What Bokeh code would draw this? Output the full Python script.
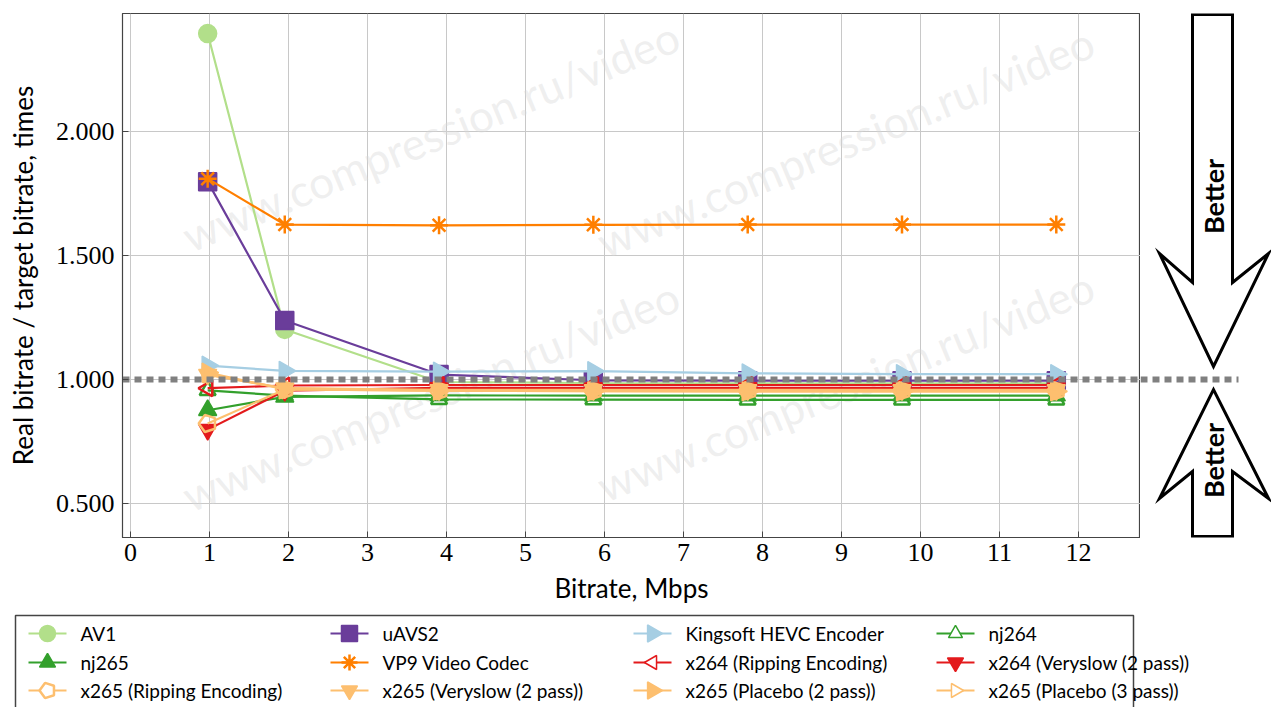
import math
from bokeh.plotting import figure
from bokeh.layouts import column, row
from bokeh.models import (ColumnDataSource, Range1d, FixedTicker, NumeralTickFormatter, Span)
from bokeh.core.properties import value
from bokeh.embed import file_html
from bokeh.resources import INLINE

# ---------------- data ----------------
bitrate = [0.977, 1.953, 3.906, 5.859, 7.813, 9.766, 11.719]

names = ["AV1", "uAVS2", "Kingsoft HEVC Encoder", "nj264",
         "nj265", "VP9 Video Codec", "x264 (Ripping Encoding)", "x264 (Veryslow (2 pass))",
         "x265 (Ripping Encoding)", "x265 (Veryslow (2 pass))", "x265 (Placebo (2 pass))", "x265 (Placebo (3 pass))"]

av1 = [2.395, 1.202, 0.990, 0.986, 0.985, 0.985, 0.985]
uavs2 = [1.798, 1.238, 1.020, 0.997, 0.995, 0.995, 0.995]
kingsoft = [1.056, 1.035, 1.032, 1.034, 1.025, 1.022, 1.022]
nj264 = [0.956, 0.935, 0.920, 0.919, 0.918, 0.918, 0.918]
nj265 = [0.876, 0.930, 0.936, 0.935, 0.935, 0.935, 0.935]
vp9 = [1.810, 1.625, 1.622, 1.624, 1.625, 1.625, 1.625]
x264_rip = [0.965, 0.976, 0.978, 0.978, 0.978, 0.978, 0.978]
x264_vs = [0.798, 0.955, 0.966, 0.966, 0.966, 0.966, 0.966]
x265_rip = [0.823, 0.960, 0.955, 0.955, 0.955, 0.955, 0.955]
x265_vs = [1.020, 0.965, 0.958, 0.958, 0.958, 0.958, 0.958]
x265_p2 = [1.028, 0.960, 0.955, 0.953, 0.952, 0.952, 0.952]
x265_p3 = [1.020, 0.964, 0.955, 0.953, 0.952, 0.952, 0.952]
series_values = [av1, uavs2, kingsoft, nj264, nj265, vp9, x264_rip, x264_vs,
                 x265_rip, x265_vs, x265_p2, x265_p3]

reference_ratio = 1.0
x_ticks = list(range(0, 13))
y_ticks = [0.5, 1.0, 1.5, 2.0]

# ---------------- styles ----------------
C_AV1, C_UAVS, C_KS, C_NJ, C_VP9, C_X264, C_X265 = ("#b2df8a", "#6a3d9a", "#a6cee3", "#33a02c",
                                                    "#ff7f00", "#e31a1c", "#fdbf6f")
styles = [
    dict(color=C_AV1, marker="circle", fill=C_AV1, size=18, angle=0),
    dict(color=C_UAVS, marker="square", fill=C_UAVS, size=18, angle=0),
    dict(color=C_KS, marker="triangle", fill=C_KS, size=19, angle=-math.pi / 2),
    dict(color=C_NJ, marker="triangle", fill=None, size=16, angle=0),
    dict(color=C_NJ, marker="triangle", fill=C_NJ, size=18, angle=0),
    dict(color=C_VP9, marker="asterisk", fill=C_VP9, size=18, angle=0),
    dict(color=C_X264, marker="triangle", fill=None, size=16, angle=math.pi / 2),
    dict(color=C_X264, marker="inverted_triangle", fill=C_X264, size=18, angle=0),
    dict(color=C_X265, marker="pentagon", fill=None, size=16, angle=0),
    dict(color=C_X265, marker="inverted_triangle", fill=C_X265, size=18, angle=0),
    dict(color=C_X265, marker="triangle", fill=C_X265, size=19, angle=-math.pi / 2),
    dict(color=C_X265, marker="triangle", fill=None, size=16, angle=-math.pi / 2),
]

SERIF = "Liberation Serif"
SANS = "Lato"

X0, X1 = -0.101, 12.785
Y0, Y1 = 0.363, 2.476
TOP_PX, FRAME_H = 13, 524


def draw_marker(fig, src, st, xcol="x", ycol="y"):
    is_open = st["fill"] is None
    if st["marker"] == "pentagon":
        try:
            fig.ngon(x=xcol, y=ycol, source=src, radius=st["size"] / 2 + 1, radius_units="screen",
                     n=5, angle=math.pi / 2, fill_color=st["fill"], line_color=st["color"], line_width=2.5)
            return
        except Exception:
            mk = "hex"
    else:
        mk = st["marker"]
    lw = 2.5 if (is_open or mk == "asterisk") else 1.5
    fig.scatter(x=xcol, y=ycol, source=src, marker=mk, size=st["size"], angle=st["angle"],
                fill_color=st["fill"], line_color=st["color"], line_width=lw)


# ---------------- main plot ----------------
p = figure(width=1140, height=610, output_backend="svg", toolbar_location=None,
           x_range=Range1d(X0, X1), y_range=Range1d(Y0, Y1),
           min_border_left=122, min_border_right=0, min_border_top=TOP_PX, min_border_bottom=73)
p.background_fill_color = "white"
p.border_fill_color = "white"
p.outline_line_color = "#444444"
p.outline_line_width = 1.2

for ax in (p.xaxis[0], p.yaxis[0]):
    ax.axis_line_color = "#444444"
    ax.major_tick_line_color = "#444444"
    ax.major_tick_in = 6
    ax.major_tick_out = 0
    ax.minor_tick_line_color = None
    ax.major_label_text_font = SERIF
    ax.major_label_text_font_size = "26px"
    ax.major_label_text_color = "black"
    ax.axis_label_text_font = SANS
    ax.axis_label_text_font_size = "26px"
    ax.axis_label_text_font_style = "normal"
    ax.axis_label_text_color = "black"

p.xaxis.ticker = FixedTicker(ticks=x_ticks)
p.yaxis.ticker = FixedTicker(ticks=y_ticks)
p.yaxis.formatter = NumeralTickFormatter(format="0.000")
p.xaxis.axis_label = "Bitrate, Mbps"
p.yaxis.axis_label = "Real bitrate / target bitrate, times"
p.xaxis.major_label_standoff = 6
p.yaxis.major_label_standoff = 8
p.xaxis.axis_label_standoff = 8
p.yaxis.axis_label_standoff = 14

p.grid.grid_line_color = "#c8c8c8"
p.grid.grid_line_width = 1

# watermark
wm = ColumnDataSource(dict(x=[3.80, 9.05, 3.80, 9.05], y=[1.984, 1.96, 0.936, 0.976],
                           t=["www.compression.ru/video"] * 4))
p.text(x="x", y="y", text="t", source=wm, angle=math.radians(22.5), text_align="center",
       text_baseline="middle", text_font=value(SANS), text_font_size="44px",
       text_color="#d8d8d8", text_alpha=0.42)

# reference line
p.add_layout(Span(location=reference_ratio, dimension="width", line_color="#808080",
                  line_width=6, line_dash="7 5", level="glyph"))

for vals, st in zip(series_values, styles):
    src = ColumnDataSource(dict(x=bitrate, y=vals))
    p.line(x="x", y="y", source=src, line_color=st["color"], line_width=2.2)
    draw_marker(p, src, st)

# ---------------- side panel with arrows ----------------
s = figure(width=131, height=610, output_backend="svg", toolbar_location=None,
           x_range=Range1d(1140, 1271), y_range=p.y_range, x_axis_type=None, y_axis_type=None,
           min_border_left=0, min_border_right=0, min_border_top=TOP_PX, min_border_bottom=73)
s.outline_line_color = None
s.grid.visible = False
s.background_fill_color = "white"
s.border_fill_color = "white"


def py2d(py):
    return Y1 - (py - TOP_PX) * (Y1 - Y0) / FRAME_H


s.segment(x0=[1140], y0=[reference_ratio], x1=[1238], y1=[reference_ratio],
          line_color="#808080", line_width=6, line_dash="7 5")

top_arrow_px = [(1192, 14), (1232, 14), (1232, 282), (1268, 253), (1213, 366), (1159, 253), (1192, 282)]
bot_arrow_px = [(1192, 536), (1232, 536), (1232, 471), (1268, 498), (1213, 389), (1159, 498), (1192, 471)]
s.patches(xs=[[a for a, b in top_arrow_px], [a for a, b in bot_arrow_px]],
          ys=[[py2d(b) for a, b in top_arrow_px], [py2d(b) for a, b in bot_arrow_px]],
          fill_color="white", line_color="black", line_width=3, line_join="miter")
s.text(x=[1213, 1213], y=[py2d(196), py2d(460)], text=["Better", "Better"], angle=math.pi / 2,
       text_align="center", text_baseline="middle", text_font=value(SANS),
       text_font_style="bold", text_font_size="27px", text_color="black")

# ---------------- legend ----------------
lg = figure(width=1271, height=97, output_backend="svg", toolbar_location=None,
            x_range=Range1d(0, 1271), y_range=Range1d(707, 610), x_axis_type=None, y_axis_type=None,
            min_border_left=0, min_border_right=0, min_border_top=0, min_border_bottom=0)
lg.outline_line_color = None
lg.grid.visible = False
lg.background_fill_color = "white"
lg.border_fill_color = "white"
lg.quad(left=[15], right=[1133], top=[615], bottom=[730], fill_color="white",
        line_color="#444444", line_width=1.5)

col_x = [80, 382, 685, 988]
row_y = [633, 662, 690]
for i, (nm, st) in enumerate(zip(names, styles)):
    tx = col_x[i % 4]
    ty = row_y[i // 4]
    lg.segment(x0=[tx - 52], y0=[ty], x1=[tx - 14], y1=[ty], line_color=st["color"], line_width=2.2)
    msrc = ColumnDataSource(dict(x=[tx - 33], y=[ty]))
    st2 = dict(st)
    st2["size"] = st["size"] - 2
    if st2["fill"] is None:
        st2["fill"] = "white"
    draw_marker(lg, msrc, st2)
    lg.text(x=[tx], y=[ty], text=[nm], text_align="left", text_baseline="middle",
            text_font=value(SANS), text_font_size="19px", text_color="black")

layout = column(row(p, s, spacing=0), lg, spacing=0)
open("out.html", "w").write(file_html(layout, INLINE))
